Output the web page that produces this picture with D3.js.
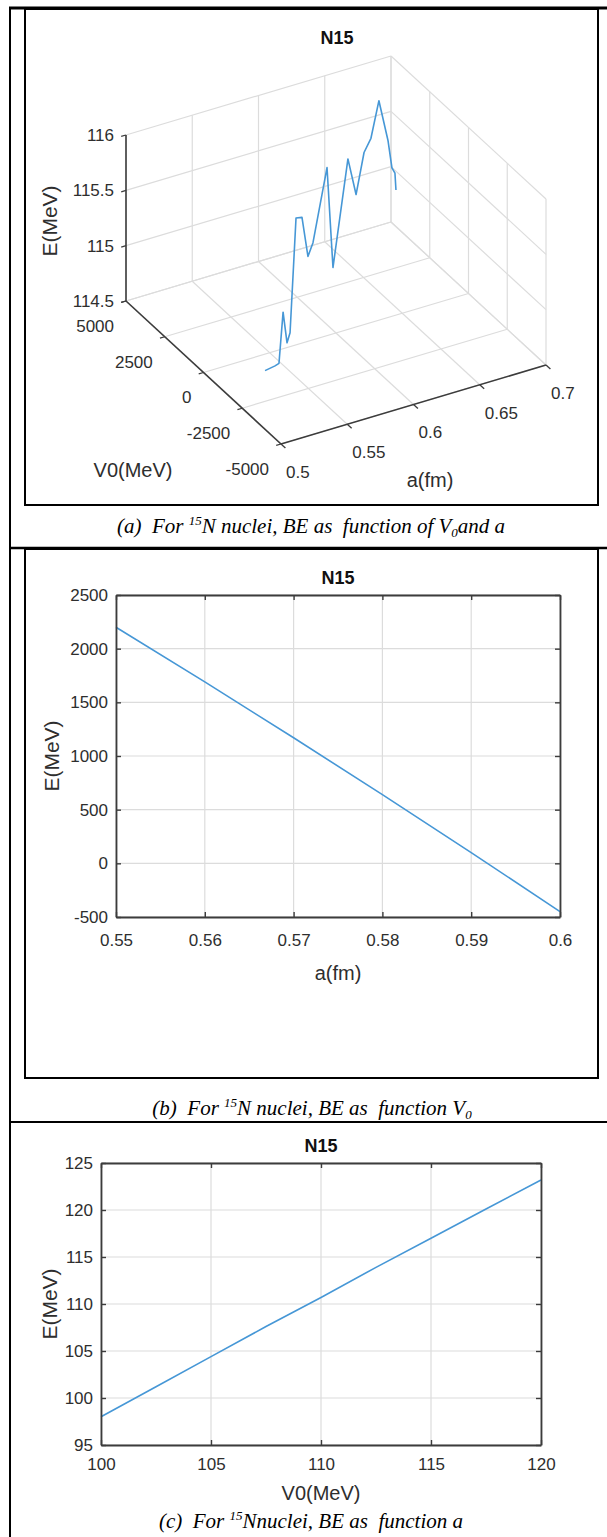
<!doctype html>
<html>
<head>
<meta charset="utf-8">
<title>N15</title>
<script src="https://d3js.org/d3.v7.min.js"></script>
<style>
  body { margin: 0; background: #fff; }
  svg { display: block; font-family: "Liberation Sans", Arial, sans-serif; }
  .cap { font-family: "Liberation Serif", "Times New Roman", serif; font-style: italic; font-size: 21px; white-space: pre; }
</style>
</head>
<body>
<svg width="607" height="1537"></svg>
<script>
// ---- data ----
var titleText = 'N15';

// (a) 3D curve, E as function of a and V0
var curveA  = [0.50, 0.51, 0.52, 0.53, 0.54, 0.55, 0.56, 0.57, 0.58, 0.59, 0.60,
               0.61, 0.62, 0.63, 0.64, 0.65, 0.66, 0.67, 0.68, 0.69, 0.70];
var curveV0 = [-3970, -3760, -3160, -2570, -1970, -1310, -840, -370, 100, 630, 580,
               1050, 940, 1270, 1610, 2020, 2360, 2630, 3230, 3890, 4680];
var curveE  = [115.03, 115.01, 114.92, 115.27, 114.88, 114.85, 115.79, 115.70, 115.25, 115.27, 115.92,
               114.92, 115.88, 115.48, 115.78, 115.82, 116.08, 115.65, 115.29, 115.12, 114.83];
var aTicks3d = [0.5, 0.55, 0.6, 0.65, 0.7];
var aLabels3d = ['0.5', '0.55', '0.6', '0.65', '0.7'];
var v0Ticks3d = [5000, 2500, 0, -2500, -5000];
var v0Labels3d = ['5000', '2500', '0', '-2500', '-5000'];
var eTicks3d = [114.5, 115, 115.5, 116];
var eLabels3d = ['114.5', '115', '115.5', '116'];

// (b) E vs a
var bA = [0.55, 0.56, 0.57, 0.58, 0.59, 0.60];
var bE = [2200, 1690, 1170, 640, 100, -450];
var bXTicks = [0.55, 0.56, 0.57, 0.58, 0.59, 0.6];
var bXLabels = ['0.55', '0.56', '0.57', '0.58', '0.59', '0.6'];
var bYTicks = [-500, 0, 500, 1000, 1500, 2000, 2500];
var bYLabels = ['-500', '0', '500', '1000', '1500', '2000', '2500'];

// (c) E vs V0
var cV0 = [100, 102.5, 105, 107.5, 110, 112.5, 115, 117.5, 120];
var cE = [98.0, 101.2, 104.4, 107.6, 110.7, 113.9, 117.0, 120.1, 123.2];
var cXTicks = [100, 105, 110, 115, 120];
var cYTicks = [95, 100, 105, 110, 115, 120, 125];

var lineColor = '#4697d6',
    gridColor = '#dcdcdc',
    axisColor = '#3c3c3c',
    textColor = '#2e2e2e';

var svg = d3.select('svg');

// ---- page frame (table + picture boxes) ----
var frame = svg.append('g').attr('fill', 'none').attr('stroke', '#000');
frame.append('line').attr('x1', 9).attr('x2', 607).attr('y1', 8).attr('y2', 8).attr('stroke-width', 3);
frame.append('line').attr('x1', 10).attr('x2', 10).attr('y1', 7).attr('y2', 1537).attr('stroke-width', 2);
frame.append('line').attr('x1', 10).attr('x2', 607).attr('y1', 548).attr('y2', 548).attr('stroke-width', 2.5);
frame.append('line').attr('x1', 10).attr('x2', 607).attr('y1', 1122).attr('y2', 1122).attr('stroke-width', 2);
frame.append('rect').attr('x', 25).attr('y', 9).attr('width', 573).attr('height', 496).attr('stroke-width', 2);
frame.append('rect').attr('x', 25).attr('y', 549).attr('width', 573).attr('height', 529).attr('stroke-width', 2);

function caption(x, y, parts) {
  var t = svg.append('text').attr('class', 'cap').attr('x', x).attr('y', y)
    .attr('text-anchor', 'middle').attr('fill', '#000');
  parts.forEach(function(p) {
    var s = t.append('tspan').text(p.t);
    if (p.sup) s.attr('font-size', 13).attr('dy', -8);
    if (p.sub) s.attr('font-size', 13).attr('dy', 4);
    if (p.back) s.attr('dy', p.back);
  });
}
caption(311, 533, [{t: '(a)  For '}, {t: '15', sup: true}, {t: 'N nuclei, BE as  function of V', back: 8},
                   {t: '0', sub: true}, {t: 'and a', back: -4}]);
caption(312, 1115, [{t: '(b)  For '}, {t: '15', sup: true}, {t: 'N nuclei, BE as  function V', back: 8},
                    {t: '0', sub: true}]);
caption(311, 1528, [{t: '(c)  For '}, {t: '15', sup: true}, {t: 'Nnuclei, BE as  function a', back: 8}]);

// ---- (a) 3D plot ----
var aS = d3.scaleLinear().domain([0.5, 0.7]).range([0, 1]);
var vS = d3.scaleLinear().domain([5000, -5000]).range([0, 1]);
var eS = d3.scaleLinear().domain([114.5, 116]).range([0, 1]);
var origin = [126, 301], aVec = [265, -79], vVec = [155, 143], eVec = [0, -166];

function proj(a, v, e) {
  var p = aS(a), q = vS(v), r = eS(e);
  return [origin[0] + p * aVec[0] + q * vVec[0] + r * eVec[0],
          origin[1] + p * aVec[1] + q * vVec[1] + r * eVec[1]];
}

var g3 = svg.append('g');
var eLo = eTicks3d[0], eHi = eTicks3d[eTicks3d.length - 1];
var vBack = 5000, vFront = -5000, aLeft = 0.5, aRight = 0.7;
var grid3 = [];
aTicks3d.forEach(function(a) {
  grid3.push([proj(a, vBack, eLo), proj(a, vBack, eHi)]);
  grid3.push([proj(a, vBack, eLo), proj(a, vFront, eLo)]);
});
v0Ticks3d.forEach(function(v) {
  grid3.push([proj(aRight, v, eLo), proj(aRight, v, eHi)]);
  grid3.push([proj(aLeft, v, eLo), proj(aRight, v, eLo)]);
});
eTicks3d.forEach(function(e) {
  grid3.push([proj(aLeft, vBack, e), proj(aRight, vBack, e)]);
  grid3.push([proj(aRight, vBack, e), proj(aRight, vFront, e)]);
});
g3.selectAll('line.grid').data(grid3).enter().append('line')
  .attr('x1', function(d) { return d[0][0]; }).attr('y1', function(d) { return d[0][1]; })
  .attr('x2', function(d) { return d[1][0]; }).attr('y2', function(d) { return d[1][1]; })
  .attr('stroke', gridColor).attr('stroke-width', 1.2);

var axes3 = [
  [proj(aLeft, vBack, eLo), proj(aLeft, vBack, eHi)],
  [proj(aLeft, vBack, eLo), proj(aLeft, vFront, eLo)],
  [proj(aLeft, vFront, eLo), proj(aRight, vFront, eLo)]
];
g3.selectAll('line.ax').data(axes3).enter().append('line')
  .attr('x1', function(d) { return d[0][0]; }).attr('y1', function(d) { return d[0][1]; })
  .attr('x2', function(d) { return d[1][0]; }).attr('y2', function(d) { return d[1][1]; })
  .attr('stroke', axisColor).attr('stroke-width', 1.6);

var aLen = Math.hypot(aVec[0], aVec[1]), vLen = Math.hypot(vVec[0], vVec[1]);
var tickL = [-aVec[0] / aLen * 5, -aVec[1] / aLen * 5],
    tickV = [vVec[0] / vLen * 6, vVec[1] / vLen * 6];

// z ticks + labels
eTicks3d.forEach(function(e, i) {
  var p = proj(aLeft, vBack, e);
  g3.append('line').attr('x1', p[0]).attr('y1', p[1]).attr('x2', p[0] + tickL[0]).attr('y2', p[1] + tickL[1])
    .attr('stroke', axisColor).attr('stroke-width', 1.3);
  g3.append('text').attr('x', p[0] - 12).attr('y', p[1]).attr('dy', '0.35em')
    .attr('text-anchor', 'end').attr('font-size', 17).attr('fill', textColor).text(eLabels3d[i]);
});
// V0 ticks + labels
v0Ticks3d.forEach(function(v, i) {
  var p = proj(aLeft, v, eLo);
  g3.append('line').attr('x1', p[0]).attr('y1', p[1]).attr('x2', p[0] + tickL[0]).attr('y2', p[1] + tickL[1])
    .attr('stroke', axisColor).attr('stroke-width', 1.3);
  g3.append('text').attr('x', p[0] - 12).attr('y', p[1] + 25).attr('dy', '0.35em')
    .attr('text-anchor', 'end').attr('font-size', 17).attr('fill', textColor).text(v0Labels3d[i]);
});
// a ticks + labels
aTicks3d.forEach(function(a, i) {
  var p = proj(a, vFront, eLo);
  g3.append('line').attr('x1', p[0]).attr('y1', p[1]).attr('x2', p[0] + tickV[0]).attr('y2', p[1] + tickV[1])
    .attr('stroke', axisColor).attr('stroke-width', 1.3);
  g3.append('text').attr('x', p[0] + 5).attr('y', p[1] + 28).attr('dy', '0.35em')
    .attr('text-anchor', 'start').attr('font-size', 17).attr('fill', textColor).text(aLabels3d[i]);
});

var curvePts = curveA.map(function(a, i) { return proj(a, curveV0[i], curveE[i]); });
g3.append('path').datum(curvePts)
  .attr('fill', 'none').attr('stroke', lineColor).attr('stroke-width', 1.6)
  .attr('stroke-linejoin', 'round').attr('d', d3.line());

g3.append('text').attr('x', 337).attr('y', 38).attr('dy', '0.35em').attr('text-anchor', 'middle')
  .attr('font-size', 18).attr('font-weight', 'bold').attr('fill', '#111').text(titleText);
g3.append('text').attr('x', 133).attr('y', 470).attr('dy', '0.35em').attr('text-anchor', 'middle')
  .attr('font-size', 20).attr('fill', textColor).text('V0(MeV)');
g3.append('text').attr('x', 430).attr('y', 480).attr('dy', '0.35em').attr('text-anchor', 'middle')
  .attr('font-size', 20).attr('fill', textColor).text('a(fm)');
g3.append('text').attr('transform', 'translate(50,221) rotate(-90)').attr('dy', '0.35em')
  .attr('text-anchor', 'middle').attr('font-size', 21).attr('fill', textColor).text('E(MeV)');

// ---- (b) and (c) 2D panels ----
function drawPanel(p) {
  var x = d3.scaleLinear().domain(p.xDomain).range([p.left, p.right]);
  var y = d3.scaleLinear().domain(p.yDomain).range([p.bottom, p.top]);
  var g = svg.append('g');

  g.append('g').selectAll('line').data(p.xTicks).enter().append('line')
    .attr('x1', function(d) { return x(d); }).attr('x2', function(d) { return x(d); })
    .attr('y1', p.top).attr('y2', p.bottom)
    .attr('stroke', gridColor).attr('stroke-width', 1.2);
  g.append('g').selectAll('line').data(p.yTicks).enter().append('line')
    .attr('y1', function(d) { return y(d); }).attr('y2', function(d) { return y(d); })
    .attr('x1', p.left).attr('x2', p.right)
    .attr('stroke', gridColor).attr('stroke-width', 1.2);

  g.append('path').datum(d3.zip(p.xs, p.ys))
    .attr('fill', 'none').attr('stroke', lineColor).attr('stroke-width', 1.6)
    .attr('d', d3.line().x(function(d) { return x(d[0]); }).y(function(d) { return y(d[1]); }));

  g.append('g').attr('transform', 'translate(0,' + p.bottom + ')')
    .call(d3.axisBottom(x).tickValues(p.xTicks).tickFormat(function(d, i) { return p.xLabels[i]; })
      .tickSizeInner(-5).tickSizeOuter(0).tickPadding(p.xPad));
  g.append('g').attr('transform', 'translate(0,' + p.top + ')')
    .call(d3.axisTop(x).tickValues(p.xTicks).tickFormat('').tickSizeInner(-5).tickSizeOuter(0));
  g.append('g').attr('transform', 'translate(' + p.left + ',0)')
    .call(d3.axisLeft(y).tickValues(p.yTicks).tickFormat(function(d, i) { return p.yLabels[i]; })
      .tickSizeInner(-5).tickSizeOuter(0).tickPadding(8));
  g.append('g').attr('transform', 'translate(' + p.right + ',0)')
    .call(d3.axisRight(y).tickValues(p.yTicks).tickFormat('').tickSizeInner(-5).tickSizeOuter(0));

  g.selectAll('.domain').attr('stroke', axisColor).attr('stroke-width', 1.8);
  g.selectAll('.tick line').attr('stroke', axisColor).attr('stroke-width', 1.4);
  g.selectAll('.tick text').attr('font-size', 17).attr('fill', textColor)
    .attr('font-family', '"Liberation Sans", Arial, sans-serif');

  g.append('text').attr('x', (p.left + p.right) / 2).attr('y', p.top - 17).attr('dy', '0.35em')
    .attr('text-anchor', 'middle').attr('font-size', 18).attr('font-weight', 'bold').attr('fill', '#111')
    .text(titleText);
  g.append('text').attr('x', (p.left + p.right) / 2).attr('y', p.xLabelY).attr('dy', '0.35em')
    .attr('text-anchor', 'middle').attr('font-size', 20).attr('fill', textColor).text(p.xTitle);
  g.append('text').attr('transform', 'translate(' + p.yLabelX + ',' + (p.top + p.bottom) / 2 + ') rotate(-90)')
    .attr('dy', '0.35em').attr('text-anchor', 'middle').attr('font-size', 21).attr('fill', textColor)
    .text('E(MeV)');
}

drawPanel({
  xs: bA, ys: bE, xDomain: [0.55, 0.6], yDomain: [-500, 2500],
  xTicks: bXTicks, xLabels: bXLabels, yTicks: bYTicks, yLabels: bYLabels,
  left: 116, right: 560, top: 595, bottom: 917, xPad: 17,
  xTitle: 'a(fm)', xLabelY: 973, yLabelX: 52
});

drawPanel({
  xs: cV0, ys: cE, xDomain: [100, 120], yDomain: [95, 125],
  xTicks: cXTicks, xLabels: cXTicks.map(String), yTicks: cYTicks, yLabels: cYTicks.map(String),
  left: 101, right: 541, top: 1163, bottom: 1445, xPad: 13,
  xTitle: 'V0(MeV)', xLabelY: 1493, yLabelX: 50
});
</script>
</body>
</html>
